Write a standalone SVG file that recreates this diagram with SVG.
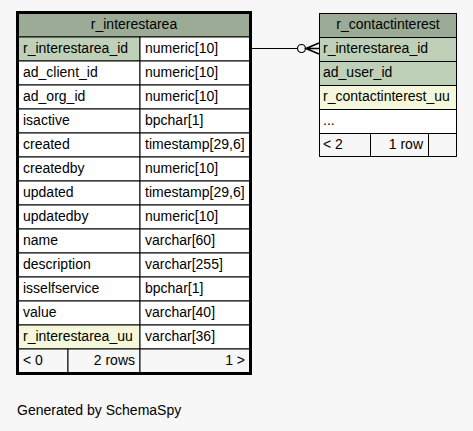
<svg xmlns="http://www.w3.org/2000/svg" width="473" height="431" viewBox="0 0 473 431">
<style>
text{font-family:"Liberation Sans",Arial,sans-serif;font-size:14px;fill:#000}
.hd{fill:#9bab96}
.pk{fill:#bed1b8}
.uu{fill:#f4f7da}
.wh{fill:#ffffff}
.ft{fill:#f7f7f7}
.cell{stroke:#000;stroke-width:1}
.mid{text-anchor:middle}
.end{text-anchor:end}
</style>
<rect width="473" height="431" fill="#f7f7f7"/>
<g id="connectors" stroke="#000" stroke-width="1.2" fill="none">
<line x1="252" y1="48.5" x2="297.5" y2="48.5"/>
<circle cx="301.5" cy="48.5" r="4" fill="#f7f7f7"/>
<path d="M319 43 L306 48.5 L319 54 M306 48.5 L319 48.5" stroke-width="1.6"/>
</g>
<g id="r_interestarea">
<g class="cell">
<rect class="hd" x="18" y="13" width="232" height="24"/>
<rect class="pk" x="18" y="37" width="122" height="24"/><rect class="wh" x="140" y="37" width="110" height="24"/>
<rect class="wh" x="18" y="61" width="122" height="24"/><rect class="wh" x="140" y="61" width="110" height="24"/>
<rect class="wh" x="18" y="85" width="122" height="24"/><rect class="wh" x="140" y="85" width="110" height="24"/>
<rect class="wh" x="18" y="109" width="122" height="24"/><rect class="wh" x="140" y="109" width="110" height="24"/>
<rect class="wh" x="18" y="133" width="122" height="24"/><rect class="wh" x="140" y="133" width="110" height="24"/>
<rect class="wh" x="18" y="157" width="122" height="24"/><rect class="wh" x="140" y="157" width="110" height="24"/>
<rect class="wh" x="18" y="181" width="122" height="24"/><rect class="wh" x="140" y="181" width="110" height="24"/>
<rect class="wh" x="18" y="205" width="122" height="24"/><rect class="wh" x="140" y="205" width="110" height="24"/>
<rect class="wh" x="18" y="229" width="122" height="24"/><rect class="wh" x="140" y="229" width="110" height="24"/>
<rect class="wh" x="18" y="253" width="122" height="24"/><rect class="wh" x="140" y="253" width="110" height="24"/>
<rect class="wh" x="18" y="277" width="122" height="24"/><rect class="wh" x="140" y="277" width="110" height="24"/>
<rect class="wh" x="18" y="301" width="122" height="24"/><rect class="wh" x="140" y="301" width="110" height="24"/>
<rect class="uu" x="18" y="325" width="122" height="24"/><rect class="wh" x="140" y="325" width="110" height="24"/>
<rect class="ft" x="18" y="349" width="50" height="24"/><rect class="ft" x="68" y="349" width="72" height="24"/><rect class="ft" x="140" y="349" width="110" height="24"/>
</g>
<rect x="17.5" y="12.5" width="233" height="361" fill="none" stroke="#000" stroke-width="3"/>
<text class="mid" x="134" y="29">r_interestarea</text>
<text x="23" y="53">r_interestarea_id</text><text x="145" y="53">numeric[10]</text>
<text x="23" y="77">ad_client_id</text><text x="145" y="77">numeric[10]</text>
<text x="23" y="101">ad_org_id</text><text x="145" y="101">numeric[10]</text>
<text x="23" y="125">isactive</text><text x="145" y="125">bpchar[1]</text>
<text x="23" y="149">created</text><text x="145" y="149">timestamp[29,6]</text>
<text x="23" y="173">createdby</text><text x="145" y="173">numeric[10]</text>
<text x="23" y="197">updated</text><text x="145" y="197">timestamp[29,6]</text>
<text x="23" y="221">updatedby</text><text x="145" y="221">numeric[10]</text>
<text x="23" y="245">name</text><text x="145" y="245">varchar[60]</text>
<text x="23" y="269">description</text><text x="145" y="269">varchar[255]</text>
<text x="23" y="293">isselfservice</text><text x="145" y="293">bpchar[1]</text>
<text x="23" y="317">value</text><text x="145" y="317">varchar[40]</text>
<text x="23" y="341">r_interestarea_uu</text><text x="145" y="341">varchar[36]</text>
<text x="23" y="365">&lt; 0</text><text class="end" x="135" y="365">2 rows</text><text class="end" x="245" y="365">1 &gt;</text>
</g>
<g id="r_contactinterest" class="cell">
<rect class="hd" x="319.5" y="13.5" width="137" height="24"/>
<rect class="pk" x="319.5" y="37.5" width="137" height="24"/>
<rect class="pk" x="319.5" y="61.5" width="137" height="24"/>
<rect class="uu" x="319.5" y="85.5" width="137" height="24"/>
<rect class="wh" x="319.5" y="109.5" width="137" height="24"/>
<rect class="ft" x="319.5" y="133.5" width="51" height="23"/>
<rect class="ft" x="370.5" y="133.5" width="58" height="23"/>
<rect class="ft" x="428.5" y="133.5" width="28" height="23"/>
<text class="mid" x="388" y="29" stroke="none">r_contactinterest</text>
<text x="323" y="53" stroke="none">r_interestarea_id</text>
<text x="323" y="77" stroke="none">ad_user_id</text>
<text x="323" y="101" stroke="none">r_contactinterest_uu</text>
<text x="323" y="125" stroke="none">...</text>
<text x="323" y="149" stroke="none">&lt; 2</text>
<text class="end" x="423" y="149" stroke="none">1 row</text>
</g>
<text x="17" y="415">Generated by SchemaSpy</text>
</svg>
